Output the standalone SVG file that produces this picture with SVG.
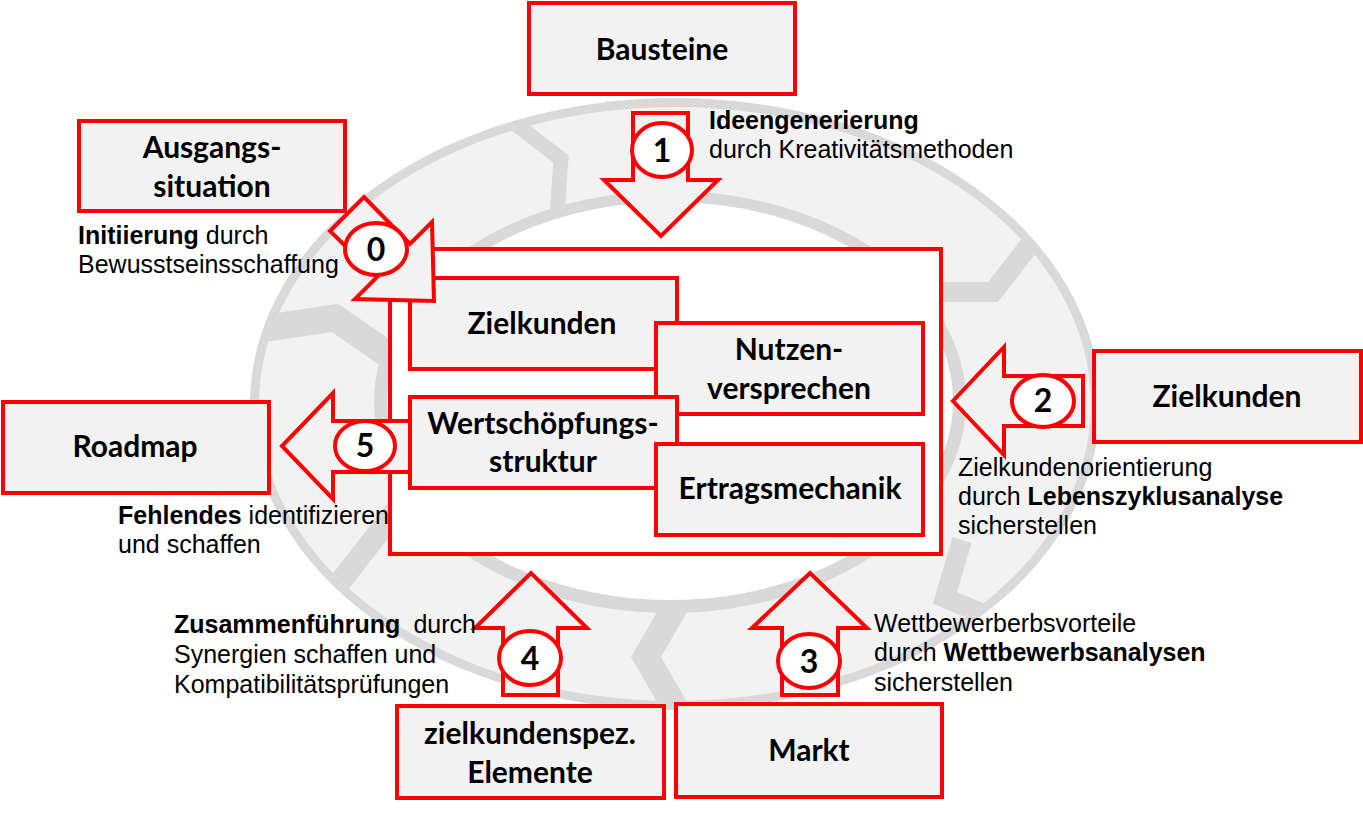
<svg xmlns="http://www.w3.org/2000/svg" width="1363" height="813" viewBox="0 0 1363 813">
<style>
.box{fill:#f2f2f2;stroke:#ff0000;stroke-width:4}
.core{fill:#ffffff;stroke:#ff0000;stroke-width:4}
.lbl{font-family:Lato,"Open Sans","Liberation Sans",sans-serif;font-weight:700;font-size:30px;fill:#000;text-anchor:middle}
.desc{font-family:"Liberation Sans",Arial,sans-serif;font-size:25px;fill:#000}
.b{font-weight:700}
.arrow{fill:#f2f2f2;stroke:#ff0000;stroke-width:4;stroke-linejoin:miter}
.nc{fill:#ffffff;stroke:#ff0000;stroke-width:4}
.num{font-family:Lato,"Liberation Sans",sans-serif;font-weight:700;font-size:32px;fill:#000;text-anchor:middle}
.chev{fill:none;stroke:#d9d9d9;stroke-linejoin:miter}
</style>
<defs>
<clipPath id="ringclip"><ellipse cx="675" cy="404" rx="416" ry="297"/></clipPath>
</defs>
<g id="ring">
<ellipse cx="675" cy="404" rx="425" ry="306" fill="#d9d9d9"/>
<ellipse cx="675" cy="404" rx="416" ry="297" fill="#f2f2f2"/>
<g clip-path="url(#ringclip)" class="chev">
<polyline points="500,112 561,159 557,215" stroke-width="15"/>
<polyline points="1045,225 993,292 935,292" stroke-width="20"/>
<polyline points="235,333 335,318 390,356" stroke-width="27"/>
<polyline points="320,608 400,505" stroke-width="22"/>
<polyline points="690,581 646,657 690,733" stroke-width="26"/>
<polyline points="1010,625 945,598 962,540" stroke-width="20"/>
</g>
<ellipse cx="670" cy="402" rx="296" ry="211" fill="#d9d9d9"/>
<ellipse cx="670" cy="401" rx="283" ry="199" fill="#ffffff"/>
</g>

<g id="bausteine"><rect class="box" x="529" y="3" width="266" height="91"/><text class="lbl" x="662" y="60">Bausteine</text></g>
<g id="ausgangssituation"><rect class="box" x="79" y="121" width="266" height="90"/><text class="lbl" x="212" y="158">Ausgangs-</text><text class="lbl" x="212" y="197">situation</text></g>
<g id="zielkunden-aussen"><rect class="box" x="1094" y="351" width="267" height="91"/><text class="lbl" x="1227" y="407">Zielkunden</text></g>
<g id="roadmap"><rect class="box" x="3" y="402" width="266" height="91"/><text class="lbl" x="135" y="457">Roadmap</text></g>
<g id="zielkundenspez"><rect class="box" x="397" y="706" width="267" height="92"/><text class="lbl" x="530" y="744">zielkundenspez.</text><text class="lbl" x="530" y="783">Elemente</text></g>
<g id="markt"><rect class="box" x="676" y="704" width="266" height="93"/><text class="lbl" x="809" y="761">Markt</text></g>

<g id="geschaeftsmodell"><rect class="core" x="390" y="249" width="551" height="305"/></g>
<g id="zielkunden-innen"><rect class="box" x="410" y="278" width="267" height="91"/><text class="lbl" x="542" y="334">Zielkunden</text></g>

<g id="connectors">
<g id="pfeil-1"><polygon class="arrow" points="633,113 688,113 688,180 718,180 661,236 604,180 633,180"/><ellipse class="nc" cx="662" cy="150" rx="30" ry="27"/><text class="num" x="662" y="162">1</text></g>
<g id="pfeil-2"><polygon class="arrow" points="1083,376 1083,426 1004,426 1004,455 953,401 1004,347 1004,376"/><ellipse class="nc" cx="1043" cy="401" rx="31" ry="26"/><text class="num" x="1043" y="412">2</text></g>
<g id="pfeil-3"><polygon class="arrow" points="782,695 782,628 752,628 810,573 867,628 838,628 838,695"/><ellipse class="nc" cx="809" cy="661" rx="31" ry="27"/><text class="num" x="809" y="673">3</text></g>
<g id="pfeil-4"><polygon class="arrow" points="503,695 503,628 475,628 531,573 587,628 558,628 558,695"/><ellipse class="nc" cx="530" cy="658" rx="31" ry="27"/><text class="num" x="530" y="670">4</text></g>
<g id="pfeil-5"><polygon class="arrow" points="412,421 333,421 333,393 282,446 333,499 333,472 412,472"/><ellipse class="nc" cx="365" cy="446" rx="30" ry="25"/><text class="num" x="365" y="457">5</text></g>
<g id="pfeil-0"><polygon class="arrow" points="364,197 410,244 432,222 434,301 355,299 377,277 330,231"/><ellipse class="nc" cx="376" cy="249" rx="31" ry="26"/><text class="num" x="376" y="261">0</text></g>
</g>

<g id="nutzenversprechen"><rect class="box" x="656" y="323" width="267" height="91"/><text class="lbl" x="789" y="360">Nutzen-</text><text class="lbl" x="789" y="399">versprechen</text></g>
<g id="wertschoepfungsstruktur"><rect class="box" x="410" y="397" width="267" height="91"/><text class="lbl" x="543" y="434">Wertschöpfungs-</text><text class="lbl" x="543" y="472">struktur</text></g>
<g id="ertragsmechanik"><rect class="box" x="656" y="444" width="267" height="91"/><text class="lbl" x="790" y="499">Ertragsmechanik</text></g>

<g id="text-0"><text class="desc" x="78" y="244"><tspan class="b">Initiierung</tspan> durch</text><text class="desc" x="78" y="273">Bewusstseinsschaffung</text></g>
<g id="text-1"><text class="desc b" x="709" y="129">Ideengenerierung</text><text class="desc" x="709" y="158">durch Kreativitätsmethoden</text></g>
<g id="text-2"><text class="desc" x="958" y="476">Zielkundenorientierung</text><text class="desc" x="958" y="505">durch <tspan class="b">Lebenszyklusanalyse</tspan></text><text class="desc" x="958" y="534">sicherstellen</text></g>
<g id="text-3"><text class="desc" x="874" y="632">Wettbewerberbsvorteile</text><text class="desc" x="874" y="661">durch <tspan class="b">Wettbewerbsanalysen</tspan></text><text class="desc" x="874" y="691">sicherstellen</text></g>
<g id="text-4"><text class="desc" x="174" y="633"><tspan class="b">Zusammenführung</tspan><tspan dx="13">durch</tspan></text><text class="desc" x="174" y="663">Synergien schaffen und</text><text class="desc" x="174" y="693">Kompatibilitätsprüfungen</text></g>
<g id="text-5"><text class="desc" x="118" y="524"><tspan class="b">Fehlendes</tspan> identifizieren</text><text class="desc" x="118" y="553">und schaffen</text></g>
</svg>
